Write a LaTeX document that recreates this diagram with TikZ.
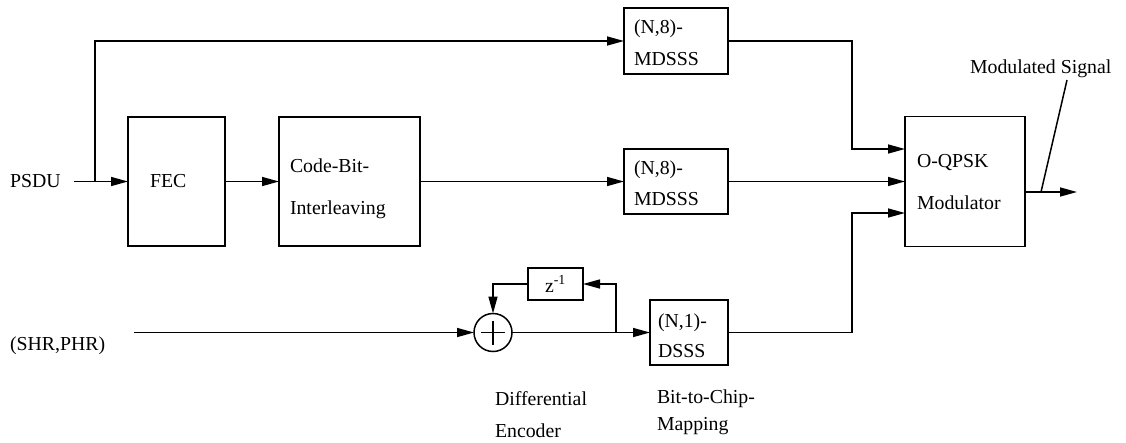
\documentclass[tikz,border=0pt]{standalone}
\usepackage{fontspec}
\setmainfont{Liberation Serif}
\newfontfamily\tms{Liberation Serif}
\usetikzlibrary{arrows.meta,calc}
\begin{document}
\begin{tikzpicture}[x=1pt,y=-1pt,
  lw/.style={line width=1.5pt},
  arr/.style={lw,-{Triangle[length=17pt,width=9pt]}},
  blk/.style={draw,lw,inner sep=0pt,outer sep=0pt},
  txt/.style={inner sep=0pt,outer sep=0pt,font=\tms\fontsize{19.8}{23.5}\selectfont}]
\useasboundingbox (0,0) rectangle (1126,442);
% boxes
\node[blk,minimum width=97pt,minimum height=129pt] (fec) at (176.5,181.5) {};
\node[blk,minimum width=141pt,minimum height=129pt] (cbi) at (349.5,181.5) {};
\node[blk,minimum width=104pt,minimum height=66pt] (mds1) at (676,41) {};
\node[blk,minimum width=104pt,minimum height=65pt] (mds2) at (676,181.5) {};
\node[blk,minimum width=120pt,minimum height=130pt] (mod) at (965,181.5) {};
\node[blk,minimum width=78pt,minimum height=65pt] (dsss) at (689,332.5) {};
\node[blk,minimum width=55pt,minimum height=32pt,txt] (zbox) at (555.5,284) {z\textsuperscript{-1}};
\node[draw,lw,circle,minimum size=38pt,inner sep=0pt,outer sep=0pt] (add) at (493,332.5) {};
\draw[lw] ($(add.center)+(-12,0)$) -- ($(add.center)+(12,0)$);
\draw[lw] ($(add.center)+(0,-12)$) -- ($(add.center)+(0,12)$);
% texts
\node[txt,anchor=base west] (psdu) at (10,187) {PSDU};
\node[txt,anchor=base west] (shr) at (10,350) {(SHR,PHR)};
\node[txt,anchor=base west] (tfec) at (150,187) {FEC};
\node[txt,anchor=base west] (tcb1) at (290,172) {Code-Bit-};
\node[txt,anchor=base west] (tcb2) at (290,214) {Interleaving};
\node[txt,anchor=base west] (tm11) at (634,33) {(N,8)-};
\node[txt,anchor=base west] (tm12) at (634,65) {MDSSS};
\node[txt,anchor=base west] (tm21) at (634,174) {(N,8)-};
\node[txt,anchor=base west] (tm22) at (634,205) {MDSSS};
\node[txt,anchor=base west] (tmod1) at (917,167) {O-QPSK};
\node[txt,anchor=base west] (tmod2) at (917,209) {Modulator};
\node[txt,anchor=base west] (td1) at (658,327) {(N,1)-};
\node[txt,anchor=base west] (td2) at (658,357) {DSSS};
\node[txt,anchor=base west] (tdif1) at (495,405) {Differential};
\node[txt,anchor=base west] (tdif2) at (495,437) {Encoder};
\node[txt,anchor=base west] (tbc1) at (657,403) {Bit-to-Chip-};
\node[txt,anchor=base west] (tbc2) at (657,430) {Mapping};
\node[txt,anchor=base west] (tsig) at (970,73) {Modulated Signal};
% coordinates
\coordinate (br) at (95,181.5);
\coordinate (in1) at (905,149);
\coordinate (in3) at (905,213);
\coordinate (modout) at (1025,192);
\coordinate (outend) at (1077,192);
\coordinate (sigpt) at (1041,192);
\coordinate (sigtop) at (1067,80);
\coordinate (fb) at (616,332.5);
% connectors
\draw[arr] (psdu.east |- fec.west) ++(13,0) -- (fec.west);
\draw[arr] (br) |- (mds1.west);
\draw[arr] (fec.east) -- (cbi.west);
\draw[arr] (cbi.east |- mds2.west) -- (mds2.west);
\draw[arr] (mds1.east) -| (852,149) -- (in1);
\draw[arr] (mds2.east) -- (mod.west |- mds2.east);
\draw[arr] (dsss.east) -- (852,332.5) |- (in3);
\draw[arr] (modout) -- (outend);
\draw[lw] (sigpt) -- (sigtop);
\draw[arr] (shr.east |- add.west) ++(29,0) -- (add.west);
\draw[arr] (add.east) -- (dsss.west);
\draw[arr] (fb) |- (zbox.east);
\draw[arr] (zbox.west) -| (add.north);
\end{tikzpicture}
\end{document}
